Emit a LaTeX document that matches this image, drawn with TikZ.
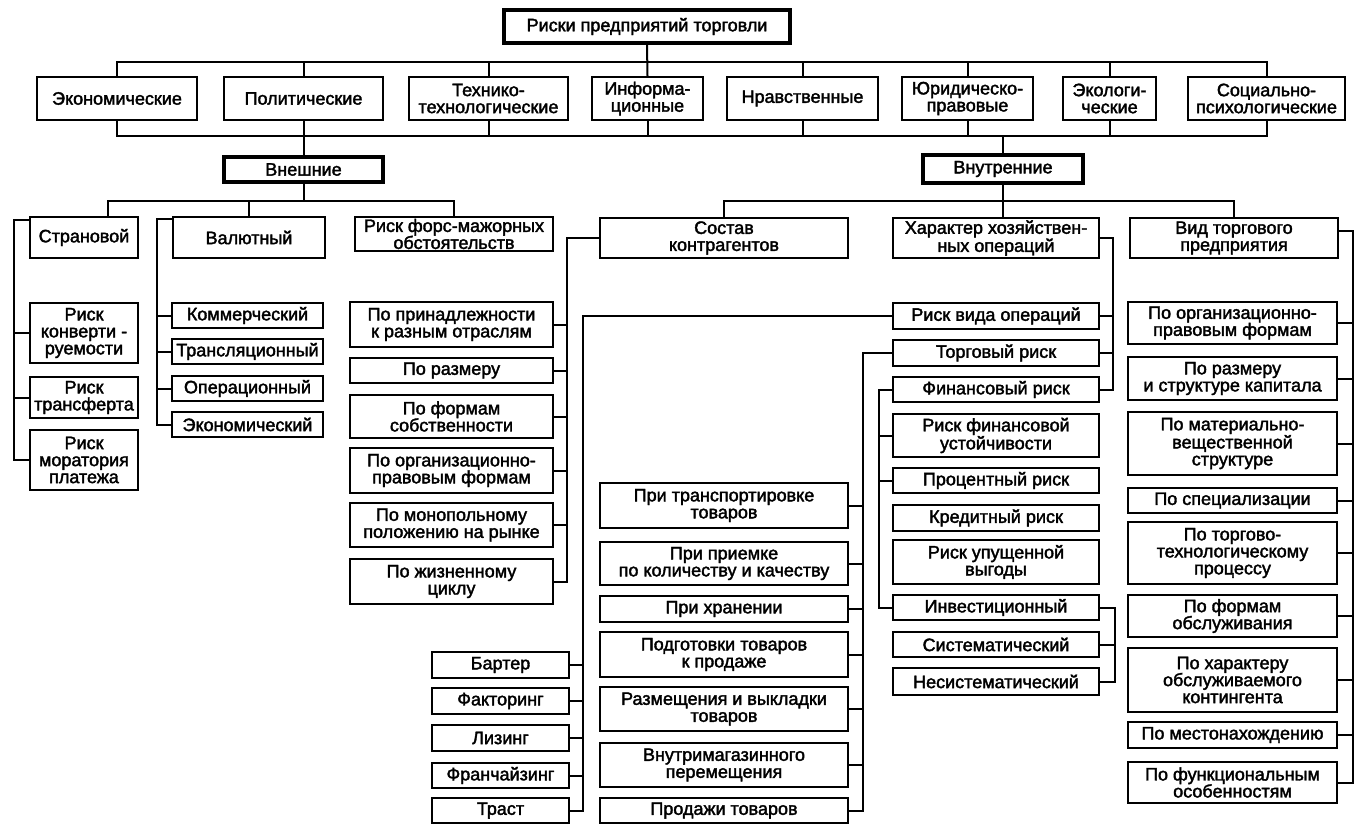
\documentclass[tikz,border=0pt]{standalone}
\usepackage{fontspec}
\setmainfont{Liberation Sans}
\newfontfamily\diagfont[FakeBold=2]{Liberation Sans}
\usetikzlibrary{calc}
\tikzset{
  bx/.style={draw, line width=2pt, inner sep=1pt, align=center, font=\diagfont\fontsize{18}{17}\selectfont},
  thickbx/.style={line width=3.8pt},
  ln/.style={line width=2pt},
}
\newcommand\bx[7][]{\node[bx,#1,minimum width={(#5-#3)*1pt},minimum height={(#6-#4)*1pt}] (#2) at ({(#3+#5)/2},{(#4+#6)/2}) {#7};}
\begin{document}
\begin{tikzpicture}[x=1pt,y=-1pt]
\useasboundingbox[fill=white] (0,0) rectangle (1371,833);
% level 0
\bx[thickbx]{title}{504}{10}{790}{43}{Риски предприятий торговли}
% level 1
\bx{eko}{37}{77}{197}{120}{Экономические}
\bx{pol}{224}{77}{383}{120}{Политические}
\bx{teh}{409}{77}{568}{120}{Технико-\\технологические}
\bx{inf}{592}{77}{703}{120}{Информа-\\ционные}
\bx{nrav}{727}{77}{878}{120}{Нравственные}
\bx{jur}{902}{77}{1033}{120}{Юридическо-\\правовые}
\bx{ekol}{1063}{77}{1156}{120}{Экологи-\\ческие}
\bx{soc}{1188}{77}{1345}{120}{Социально-\\психологические}
% level 2
\bx[thickbx]{vnesh}{224}{157}{383}{182}{Внешние}
\bx[thickbx]{vnutr}{923}{155}{1083}{183}{Внутренние}
% level 3
\bx{stran}{30}{217}{138}{258}{Страновой}
\bx{val}{173}{217}{325}{258}{Валютный}
\bx{fm}{355}{217}{553}{251}{Риск форс-мажорных\\обстоятельств}
\bx{sost}{600}{218}{848}{258}{Состав\\контрагентов}
\bx{har}{893}{218}{1099}{258}{Характер хозяйствен-\\ных операций}
\bx{vid}{1130}{218}{1338}{258}{Вид торгового\\предприятия}
% Страновой
\bx{konv}{30}{303}{138}{363}{Риск\\конверти -\\руемости}
\bx{trans}{30}{377}{138}{418}{Риск\\трансферта}
\bx{mor}{30}{430}{138}{490}{Риск\\моратория\\платежа}
% Валютный
\bx{kom}{172}{303}{323}{328}{Коммерческий}
\bx{transl}{172}{339}{323}{364}{Трансляционный}
\bx{oper}{172}{376}{323}{401}{Операционный}
\bx{ekon}{172}{412}{323}{437}{Экономический}
% Состав контрагентов
\bx{p1}{350}{302}{553}{347}{По принадлежности\\к разным отраслям}
\bx{p2}{350}{358}{553}{383}{По размеру}
\bx{p3}{350}{395}{553}{438}{По формам\\собственности}
\bx{p4}{350}{448}{553}{493}{По организационно-\\правовым формам}
\bx{p5}{350}{503}{553}{547}{По монопольному\\положению на рынке}
\bx{p6}{350}{559}{553}{604}{По жизненному\\циклу}
% Риск вида операций
\bx{bart}{432}{652}{569}{678}{Бартер}
\bx{fakt}{432}{688}{569}{714}{Факторинг}
\bx{liz}{432}{725}{569}{751}{Лизинг}
\bx{fran}{432}{763}{569}{788}{Франчайзинг}
\bx{trast}{432}{798}{569}{823}{Траст}
% Торговый риск
\bx{t1}{600}{483}{848}{528}{При транспортировке\\товаров}
\bx{t2}{600}{542}{848}{585}{При приемке\\по количеству и качеству}
\bx{t3}{600}{596}{848}{622}{При хранении}
\bx{t4}{600}{632}{848}{677}{Подготовки товаров\\к продаже}
\bx{t5}{600}{687}{848}{731}{Размещения и выкладки\\товаров}
\bx{t6}{600}{743}{848}{787}{Внутримагазинного\\перемещения}
\bx{t7}{600}{798}{848}{823}{Продажи товаров}
% Характер хозяйственных операций
\bx{rvo}{893}{303}{1099}{329}{Риск вида операций}
\bx{torg}{893}{340}{1099}{366}{Торговый риск}
\bx{fin}{893}{377}{1099}{402}{Финансовый риск}
\bx{f1}{893}{414}{1099}{457}{Риск финансовой\\устойчивости}
\bx{f2}{893}{468}{1099}{493}{Процентный риск}
\bx{f3}{893}{505}{1099}{531}{Кредитный риск}
\bx{f4}{893}{540}{1099}{584}{Риск упущенной\\выгоды}
\bx{f5}{893}{595}{1099}{620}{Инвестиционный}
\bx{f6}{893}{632}{1099}{657}{Систематический}
\bx{f7}{893}{668}{1099}{695}{Несистематический}
% Вид торгового предприятия
\bx{v1}{1128}{302}{1337}{344}{По организационно-\\правовым формам}
\bx{v2}{1128}{357}{1337}{400}{По размеру\\и структуре капитала}
\bx{v3}{1128}{412}{1337}{475}{По материально-\\вещественной\\структуре}
\bx{v4}{1128}{488}{1337}{513}{По специализации}
\bx{v5}{1128}{522}{1337}{584}{По торгово-\\технологическому\\процессу}
\bx{v6}{1128}{595}{1337}{637}{По формам\\обслуживания}
\bx{v7}{1128}{648}{1337}{712}{По характеру\\обслуживаемого\\контингента}
\bx{v8}{1128}{722}{1337}{748}{По местонахождению}
\bx{v9}{1128}{762}{1337}{803}{По функциональным\\особенностям}
% ---- connectors ----
\coordinate (tb) at (0,62);
\coordinate (bb) at (0,136);
\coordinate (vb) at (0,201);
\draw[ln] (title.south) -- (inf.north);
\draw[ln] (eko.north) -- (eko.north |- tb) -- (soc.north |- tb) -- (soc.north);
\foreach \n in {pol,teh,nrav,jur,ekol} \draw[ln] (\n.north) -- (\n.north |- tb);
\draw[ln] (eko.south) -- (eko.south |- bb) -- (soc.south |- bb) -- (soc.south);
\foreach \n in {teh,inf,nrav,jur,ekol} \draw[ln] (\n.south) -- (\n.south |- bb);
\draw[ln] (pol.south) -- (vnesh.north);
\draw[ln] (vnutr.north) -- (vnutr.north |- bb);
% external bus
\coordinate (strtop) at ($(stran.north)+(24,0)$);
\draw[ln] (strtop) |- (fm.north |- vb) -- (fm.north);
\draw[ln] (val.north) -- (val.north |- vb);
\draw[ln] (vnesh.south) -- (vnesh.south |- vb);
% internal bus
\draw[ln] (sost.north) |- (vid.north |- vb) -- (vid.north);
\draw[ln] (vnutr.south) -- (vnutr.south |- har.north);
% Страновой spine
\coordinate (sx) at (14,0);
\draw[ln] ([yshift=-4pt]stran.north west) -| (mor.west -| sx) -- (mor.west);
\foreach \n in {konv,trans} \draw[ln] (\n.west) -- (\n.west -| sx);
% Валютный spine
\coordinate (vx) at (157,0);
\draw[ln] ([yshift=-3pt]val.north west) -| (ekon.west -| vx) -- (ekon.west);
\foreach \n in {kom,transl,oper} \draw[ln] (\n.west) -- (\n.west -| vx);
% Состав spine
\coordinate (cx) at (567,0);
\draw[ln] (sost.west) -| (p6.east -| cx) -- (p6.east);
\foreach \n in {p1,p2,p3,p4,p5} \draw[ln] (\n.east) -- (\n.east -| cx);
% Риск вида операций spine
\coordinate (rx) at (583,0);
\draw[ln] (rvo.west) -| (trast.east -| rx) -- (trast.east);
\foreach \n in {bart,fakt,liz,fran} \draw[ln] (\n.east) -- (\n.east -| rx);
% Торговый риск spine
\coordinate (tx) at (863,0);
\draw[ln] (torg.west) -| (t7.east -| tx) -- (t7.east);
\foreach \n in {t1,t2,t3,t4,t5,t6} \draw[ln] (\n.east) -- (\n.east -| tx);
% Финансовый риск spine
\coordinate (fx) at (879,0);
\draw[ln] (fin.west) -| (f5.west -| fx) -- (f5.west);
\foreach \n in {f1,f2} \draw[ln] (\n.west) -- (\n.west -| fx);
% bracket
\coordinate (brx) at (1115,0);
\draw[ln] (f5.east) -| (f7.east -| brx) -- (f7.east);
\draw[ln] (f6.east) -- (f6.east -| brx);
% Характер spine
\coordinate (hx) at (1113,0);
\draw[ln] (har.east) -| (fin.east -| hx) -- (fin.east);
\foreach \n in {rvo,torg} \draw[ln] (\n.east) -- (\n.east -| hx);
% Вид spine
\coordinate (wx) at (1353,0);
\draw[ln] ([yshift=7pt]vid.east) -| (v9.east -| wx) -- (v9.east);
\foreach \n in {v1,v2,v3,v4,v5,v6,v7,v8} \draw[ln] (\n.east) -- (\n.east -| wx);
\end{tikzpicture}
\end{document}
